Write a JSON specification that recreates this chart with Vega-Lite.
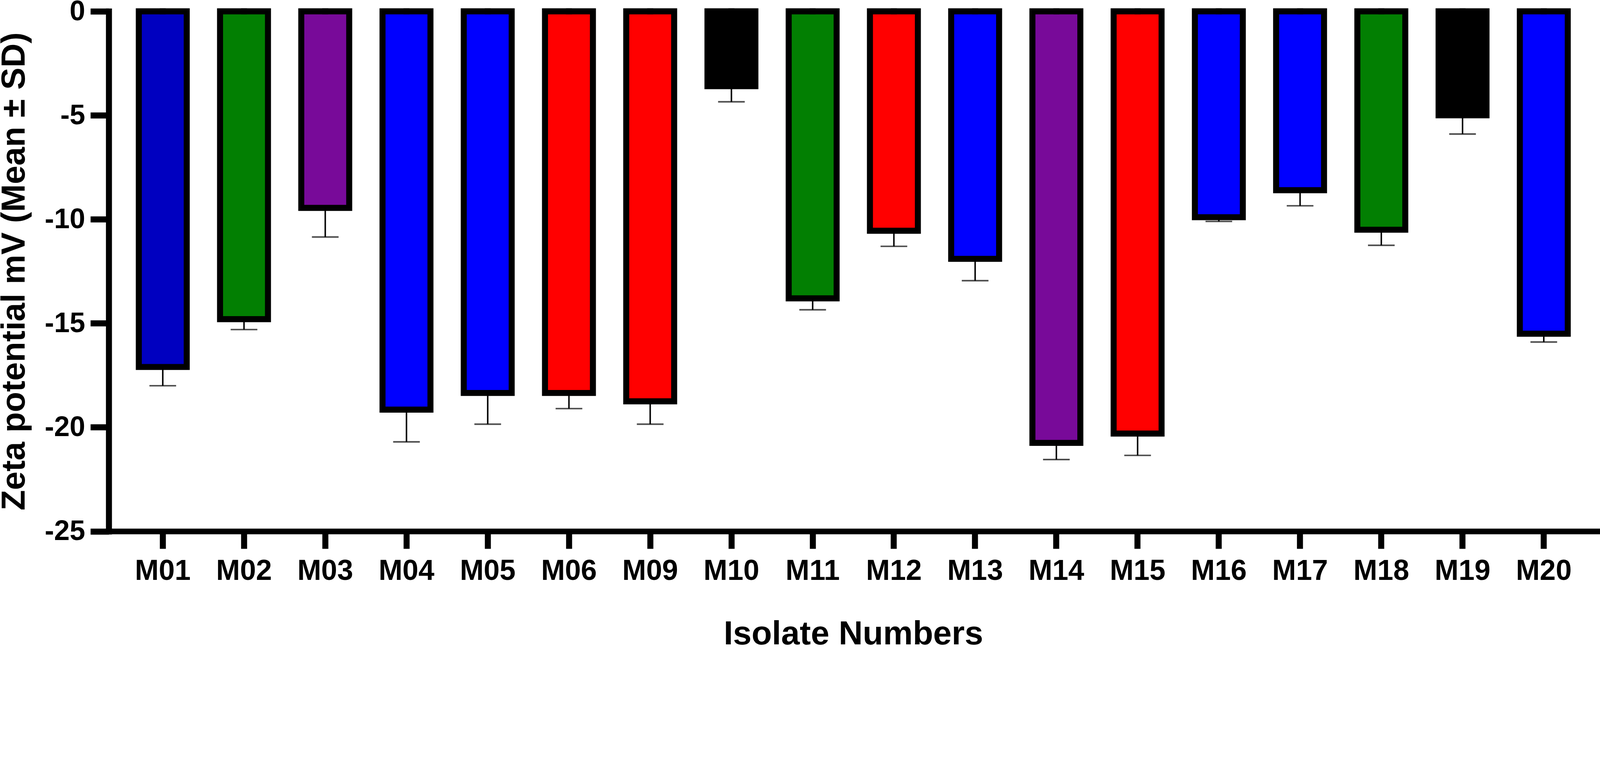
{
  "$schema": "https://vega.github.io/schema/vega-lite/v6.json",
  "autosize": "none",
  "width": 3812,
  "height": 1330.6,
  "padding": {"left": 278.4, "top": 29, "right": 7.6, "bottom": 305.4},
  "background": "white",
  "config": {
    "view": {"stroke": null},
    "font": "Liberation Sans",
    "axis": {"grid": false}
  },
  "data": {
    "values": [
      {"isolate": "M01", "mean": -17.1, "low": -18.0},
      {"isolate": "M02", "mean": -14.8, "low": -15.3},
      {"isolate": "M03", "mean": -9.45, "low": -10.85},
      {"isolate": "M04", "mean": -19.15, "low": -20.7},
      {"isolate": "M05", "mean": -18.35, "low": -19.85},
      {"isolate": "M06", "mean": -18.35, "low": -19.1},
      {"isolate": "M09", "mean": -18.75, "low": -19.85},
      {"isolate": "M10", "mean": -3.6, "low": -4.35},
      {"isolate": "M11", "mean": -13.8, "low": -14.35},
      {"isolate": "M12", "mean": -10.55, "low": -11.3},
      {"isolate": "M13", "mean": -11.9, "low": -12.95},
      {"isolate": "M14", "mean": -20.75, "low": -21.55},
      {"isolate": "M15", "mean": -20.3, "low": -21.35},
      {"isolate": "M16", "mean": -9.9, "low": -10.1},
      {"isolate": "M17", "mean": -8.6, "low": -9.35},
      {"isolate": "M18", "mean": -10.5, "low": -11.25},
      {"isolate": "M19", "mean": -5.0, "low": -5.9},
      {"isolate": "M20", "mean": -15.5, "low": -15.9}
    ]
  },
  "encoding": {
    "x": {
      "field": "isolate",
      "type": "nominal",
      "sort": null,
      "scale": {"paddingInner": 0.41, "paddingOuter": 0.37},
      "axis": {
        "title": "Isolate Numbers",
        "titleFont": "Liberation Sans",
        "titleFontSize": 85.4,
        "titleFontWeight": "bold",
        "titleColor": "black",
        "titleX": 1906,
        "titleY": 288.6,
        "titleAlign": "center",
        "titleBaseline": "alphabetic",
        "labelFont": "Liberation Sans",
        "labelFontSize": 73.4,
        "labelFontWeight": "bold",
        "labelColor": "black",
        "labelAngle": 0,
        "labelBaseline": "alphabetic",
        "labelPadding": 79.4,
        "tickSize": 44.4,
        "tickWidth": 15.4,
        "tickColor": "black",
        "domainWidth": 14.5,
        "domainColor": "black",
        "domainCap": "square"
      }
    }
  },
  "layer": [
    {
      "mark": {"type": "rule", "color": "black", "strokeWidth": 3.8},
      "encoding": {
        "y": {"field": "mean", "type": "quantitative"},
        "y2": {"field": "low"}
      }
    },
    {
      "mark": {"type": "tick", "color": "black", "size": 68.3, "thickness": 3.8, "orient": "horizontal"},
      "encoding": {
        "y": {"field": "low", "type": "quantitative"}
      }
    },
    {
      "mark": {"type": "bar", "stroke": "black", "strokeWidth": 15.4, "opacity": 1, "fillOpacity": 1},
      "encoding": {
        "y": {
          "field": "mean",
          "type": "quantitative",
          "scale": {"domain": [-25, 0], "nice": false, "zero": false},
          "axis": {
            "values": [-25, -20, -15, -10, -5, 0],
            "labelExpr": "'' + datum.value",
            "title": "Zeta potential mV (Mean ± SD)",
            "titleFont": "Liberation Sans",
            "titleFontSize": 85.4,
            "titleFontWeight": "bold",
            "titleColor": "black",
            "titleAngle": -90,
            "titleX": -216,
            "titleY": 665,
            "titleAlign": "center",
            "titleBaseline": "alphabetic",
            "labelFont": "Liberation Sans",
            "labelFontSize": 71.7,
            "labelFontWeight": "bold",
            "labelColor": "black",
            "labelPadding": 13.7,
            "tickSize": 47,
            "tickWidth": 15.4,
            "tickColor": "black",
            "domainWidth": 15.4,
            "domainColor": "black",
            "domainCap": "square"
          }
        },
        "y2": {"datum": 0},
        "color": {
          "field": "isolate",
          "type": "nominal",
          "legend": null,
          "scale": {
            "domain": ["M01","M02","M03","M04","M05","M06","M09","M10","M11","M12","M13","M14","M15","M16","M17","M18","M19","M20"],
            "range": ["#0000C0","#027F02","#780A99","#0000FF","#0000FF","#FF0000","#FF0000","#000000","#027F02","#FF0000","#0000FF","#780A99","#FF0000","#0000FF","#0000FF","#027F02","#000000","#0000FF"]
          }
        }
      }
    },
    {
      "mark": {"type": "rule", "color": "black", "strokeWidth": 15.4, "strokeCap": "square"},
      "encoding": {"y": {"datum": 0}}
    }
  ]
}
